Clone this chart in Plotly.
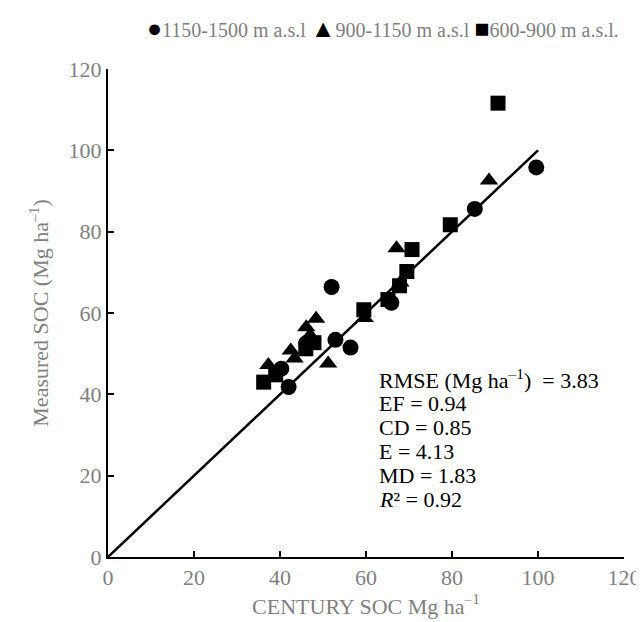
import plotly.graph_objects as go

# Data (CENTURY simulated vs measured SOC, Mg ha-1)
high_x = [40.3, 42.0, 46.1, 52.0, 52.9, 56.4, 65.9, 85.3, 99.6]
high_y = [46.3, 41.8, 52.6, 66.4, 53.4, 51.5, 62.5, 85.6, 95.8]

mid_x = [37.3, 42.5, 43.4, 46.1, 47.0, 48.4, 51.2, 59.7, 67.1, 68.0, 88.6]
mid_y = [47.2, 50.8, 48.8, 56.5, 54.5, 58.6, 47.6, 58.8, 75.9, 67.5, 92.6]

low_x = [36.2, 39.0, 46.0, 47.9, 59.5, 65.1, 67.8, 69.5, 70.7, 79.6, 90.7]
low_y = [43.0, 44.8, 51.2, 52.7, 60.8, 63.3, 66.7, 70.2, 75.6, 81.7, 111.6]

line_x = [0, 100]
line_y = [0, 100]

series_names = ["1150-1500 m a.s.l", "900-1150 m a.s.l", "600-900 m a.s.l."]
series_glyphs = ["●", "▲", "■"]
stats_lines = ["RMSE (Mg ha<sup>–1</sup>)&nbsp;&nbsp;= 3.83", "EF = 0.94", "CD = 0.85",
               "E = 4.13", "MD = 1.83", "<i>R</i>² = 0.92"]

FONT = "Liberation Serif, Times New Roman, serif"
GRAY = "#7f7f7f"
FS = 22

fig = go.Figure()
fig.add_trace(go.Scatter(x=line_x, y=line_y, mode="lines",
                         line=dict(color="black", width=2.5), showlegend=False,
                         hoverinfo="skip"))
fig.add_trace(go.Scatter(x=high_x, y=high_y, mode="markers", name=series_names[0],
                         marker=dict(symbol="circle", size=16, color="black")))
fig.add_trace(go.Scatter(x=mid_x, y=mid_y, mode="markers", name=series_names[1],
                         marker=dict(symbol="triangle-up", size=16, color="black")))
fig.add_trace(go.Scatter(x=low_x, y=low_y, mode="markers", name=series_names[2],
                         marker=dict(symbol="square", size=15, color="black")))

# statistics block
for i, t in enumerate(stats_lines):
    fig.add_annotation(x=62.5, y=43.8 - 5.95 * i, xref="x", yref="y", text=t,
                       showarrow=False, xanchor="left", yanchor="middle", align="left",
                       font=dict(family=FONT, size=FS, color="black"))

# legend row at top
legend_text = " ".join(
    f'<span style="color:black;font-size:25px">{g}</span>{n}'
    for g, n in zip(series_glyphs, series_names))
fig.add_annotation(x=0.533, y=1.0, xref="paper", yref="paper", yshift=41,
                   text=legend_text, showarrow=False, xanchor="center", yanchor="middle",
                   font=dict(family=FONT, size=20, color=GRAY))

axis_common = dict(range=[0, 120], dtick=20, showgrid=False, zeroline=False,
                   showline=True, linecolor="black", linewidth=2,
                   ticks="inside", ticklen=6, tickwidth=1.5, tickcolor="black",
                   tickfont=dict(family=FONT, size=FS, color=GRAY))

fig.update_xaxes(**axis_common,
                 title=dict(text="CENTURY SOC Mg ha<sup>–1</sup>",
                            font=dict(family=FONT, size=FS, color=GRAY), standoff=6))
fig.update_yaxes(**axis_common,
                 title=dict(text="Measured SOC (Mg ha<sup>–1</sup>)",
                            font=dict(family=FONT, size=FS, color=GRAY), standoff=14))

fig.update_layout(
    width=644, height=622,
    margin=dict(l=100, r=28, t=61, b=73),
    plot_bgcolor="white", paper_bgcolor="white",
    font=dict(family=FONT, size=FS, color=GRAY),
    showlegend=False,
)

fig.write_html("out.html")
